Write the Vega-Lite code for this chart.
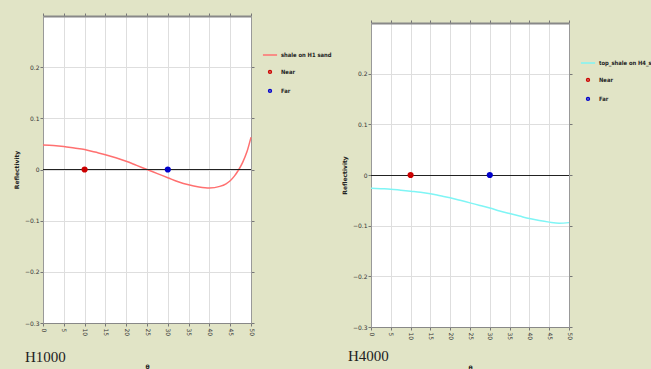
{
  "$schema": "https://vega.github.io/schema/vega-lite/v6.json",
  "background": "#e1e4c6",
  "padding": {"left": 13, "top": 12, "right": 0, "bottom": 0},
  "spacing": 9,
  "datasets": {
    "h1": [
      {"theta": 0, "reflectivity": 0.048}, {"theta": 2.5, "reflectivity": 0.047}, {"theta": 5, "reflectivity": 0.045},
      {"theta": 7.5, "reflectivity": 0.042}, {"theta": 10, "reflectivity": 0.039}, {"theta": 12.5, "reflectivity": 0.034},
      {"theta": 15, "reflectivity": 0.029}, {"theta": 17.5, "reflectivity": 0.023}, {"theta": 20, "reflectivity": 0.016},
      {"theta": 22.5, "reflectivity": 0.008}, {"theta": 25, "reflectivity": 0.0}, {"theta": 27.5, "reflectivity": -0.008},
      {"theta": 30, "reflectivity": -0.016}, {"theta": 32.5, "reflectivity": -0.024}, {"theta": 35, "reflectivity": -0.030},
      {"theta": 37.5, "reflectivity": -0.034}, {"theta": 40, "reflectivity": -0.036}, {"theta": 42.5, "reflectivity": -0.033},
      {"theta": 44, "reflectivity": -0.028}, {"theta": 45, "reflectivity": -0.022}, {"theta": 46, "reflectivity": -0.013},
      {"theta": 47, "reflectivity": -0.001}, {"theta": 48, "reflectivity": 0.014}, {"theta": 49, "reflectivity": 0.034},
      {"theta": 50, "reflectivity": 0.063}
    ],
    "h4": [
      {"theta": 0, "reflectivity": -0.026}, {"theta": 2.5, "reflectivity": -0.027}, {"theta": 5, "reflectivity": -0.028},
      {"theta": 7.5, "reflectivity": -0.030}, {"theta": 10, "reflectivity": -0.032}, {"theta": 12.5, "reflectivity": -0.034},
      {"theta": 15, "reflectivity": -0.037}, {"theta": 17.5, "reflectivity": -0.041}, {"theta": 20, "reflectivity": -0.045},
      {"theta": 22.5, "reflectivity": -0.050}, {"theta": 25, "reflectivity": -0.055}, {"theta": 27.5, "reflectivity": -0.060},
      {"theta": 30, "reflectivity": -0.065}, {"theta": 32.5, "reflectivity": -0.071}, {"theta": 35, "reflectivity": -0.076},
      {"theta": 37.5, "reflectivity": -0.081}, {"theta": 40, "reflectivity": -0.086}, {"theta": 42.5, "reflectivity": -0.090},
      {"theta": 45, "reflectivity": -0.093}, {"theta": 47.5, "reflectivity": -0.095}, {"theta": 50, "reflectivity": -0.094}
    ],
    "pts": [
      {"theta": 10, "reflectivity": 0, "series": "Near"},
      {"theta": 30, "reflectivity": 0, "series": "Far"}
    ],
    "zero": [{"reflectivity": 0}]
  },
  "config": {
    "view": {"fill": "white", "stroke": null},
    "axis": {
      "labelFont": "DejaVu Sans", "labelFontSize": 6, "labelColor": "#333",
      "tickColor": "#777", "tickSize": 3, "domainColor": "#999",
      "gridColor": "#dedede", "titleFont": "DejaVu Sans", "titleFontSize": 6, "titleFontWeight": "bold", "titleColor": "#222"
    },
    "legend": {"labelFont": "DejaVu Sans Condensed, sans-serif", "labelFontSize": 5.8, "labelFontWeight": "bold", "labelColor": "#222"}
  },
  "resolve": {"scale": {"color": "independent", "shape": "independent", "size": "independent"}, "legend": {"color": "independent", "shape": "independent", "size": "independent"}},
  "hconcat": [
    {
      "width": 208, "height": 307,
      "title": {"text": "H1000", "orient": "bottom", "anchor": "start", "frame": "group", "font": "Liberation Serif", "fontSize": 15, "fontWeight": "normal", "color": "#222", "dx": -18, "offset": -20},
      "resolve": {"axis": {"x": "independent", "y": "independent"}},
      "layer": [
        {
          "data": {"name": "h1"},
          "mark": {"type": "line", "color": "#ff7070", "strokeWidth": 1.5, "interpolate": "monotone"},
          "encoding": {
            "x": {"field": "theta", "type": "quantitative", "scale": {"domain": [0, 50], "nice": false},
              "axis": {"title": "θ", "values": [0,5,10,15,20,25,30,35,40,45,50], "labelAngle": 90, "titlePadding": 28, "domainColor": "#888"}},
            "y": {"field": "reflectivity", "type": "quantitative", "scale": {"domain": [-0.3, 0.3], "nice": false},
              "axis": {"title": "Reflectivity", "values": [-0.3,-0.2,-0.1,0,0.1,0.2], "format": ".1~f", "titlePadding": 5, "labelPadding": 1}}
          }
        },
        {
          "data": {"name": "zero"},
          "mark": {"type": "rule", "color": "#222", "strokeWidth": 1},
          "encoding": {"y": {"field": "reflectivity", "type": "quantitative", "axis": null}}
        },
        {
          "data": {"name": "pts"},
          "mark": {"type": "point", "filled": false, "size": 9, "strokeWidth": 3.4, "opacity": 1},
          "encoding": {
            "x": {"field": "theta", "type": "quantitative", "axis": {"orient": "top", "labels": false, "title": null, "grid": false, "domainColor": "#888", "domainWidth": 2, "values": [0,5,10,15,20,25,30,35,40,45,50]}},
            "y": {"field": "reflectivity", "type": "quantitative", "axis": {"orient": "right", "labels": false, "title": null, "grid": false, "values": [-0.3,-0.2,-0.1,0,0.1,0.2]}},
            "color": {"field": "series", "type": "nominal", "scale": {"domain": ["shale on H1 sand", "Near", "Far"], "range": ["#ff7070", "#cc0000", "#0000cc"]},
              "legend": {"title": null, "orient": "none", "legendX": 219, "legendY": 31, "labelOffset": 3, "rowPadding": 9, "symbolStrokeWidth": 1.5}},
            "shape": {"field": "series", "type": "nominal", "scale": {"domain": ["shale on H1 sand", "Near", "Far"], "range": ["stroke", "circle", "circle"]}},
            "size": {"field": "series", "type": "nominal", "scale": {"type": "ordinal", "domain": ["shale on H1 sand", "Near", "Far"], "range": [200, 8, 8]}}
          }
        }
      ]
    },
    {
      "spacing": 2,
      "resolve": {"scale": {"color": "independent", "shape": "independent", "size": "independent"}, "legend": {"color": "independent", "shape": "independent", "size": "independent"}},
      "vconcat": [
        {
          "width": 198, "height": 1,
          "view": {"fill": null, "stroke": null},
          "data": {"values": []},
          "mark": "point",
          "encoding": {}
        },
        {
          "width": 198, "height": 304,
          "title": {"text": "H4000", "orient": "bottom", "anchor": "start", "frame": "group", "font": "Liberation Serif", "fontSize": 15, "fontWeight": "normal", "color": "#222", "dx": -23, "offset": -22},
          "resolve": {"axis": {"x": "independent", "y": "independent"}},
          "layer": [
            {
              "data": {"name": "h4"},
              "mark": {"type": "line", "color": "#7ff5f5", "strokeWidth": 1.5, "interpolate": "monotone"},
              "encoding": {
                "x": {"field": "theta", "type": "quantitative", "scale": {"domain": [0, 50], "nice": false},
                  "axis": {"title": "θ", "values": [0,5,10,15,20,25,30,35,40,45,50], "labelAngle": 90, "titlePadding": 25, "domainColor": "#888"}},
                "y": {"field": "reflectivity", "type": "quantitative", "scale": {"domain": [-0.3, 0.3], "nice": false},
                  "axis": {"title": "Reflectivity", "values": [-0.3,-0.2,-0.1,0,0.1,0.2], "format": ".1~f", "titlePadding": 5, "labelPadding": 1}}
              }
            },
            {
              "data": {"name": "zero"},
              "mark": {"type": "rule", "color": "#222", "strokeWidth": 1, "yOffset": 0.5},
              "encoding": {"y": {"field": "reflectivity", "type": "quantitative", "axis": null}}
            },
            {
              "data": {"name": "pts"},
              "mark": {"type": "point", "filled": false, "size": 9, "strokeWidth": 3.4, "opacity": 1},
              "encoding": {
                "x": {"field": "theta", "type": "quantitative", "axis": {"orient": "top", "labels": false, "title": null, "grid": false, "domainColor": "#888", "domainWidth": 2, "values": [0,5,10,15,20,25,30,35,40,45,50]}},
                "y": {"field": "reflectivity", "type": "quantitative", "axis": {"orient": "right", "labels": false, "title": null, "grid": false, "values": [-0.3,-0.2,-0.1,0,0.1,0.2]}},
                "color": {"field": "series", "type": "nominal", "scale": {"domain": ["top_shale on H4_sand", "Near", "Far"], "range": ["#7ff5f5", "#cc0000", "#0000cc"]},
                  "legend": {"title": null, "orient": "none", "legendX": 209, "legendY": 32, "labelOffset": 3, "rowPadding": 9, "symbolStrokeWidth": 1.5}},
                "shape": {"field": "series", "type": "nominal", "scale": {"domain": ["top_shale on H4_sand", "Near", "Far"], "range": ["stroke", "circle", "circle"]}},
                "size": {"field": "series", "type": "nominal", "scale": {"type": "ordinal", "domain": ["top_shale on H4_sand", "Near", "Far"], "range": [200, 8, 8]}}
              }
            }
          ]
        }
      ]
    }
  ]
}
